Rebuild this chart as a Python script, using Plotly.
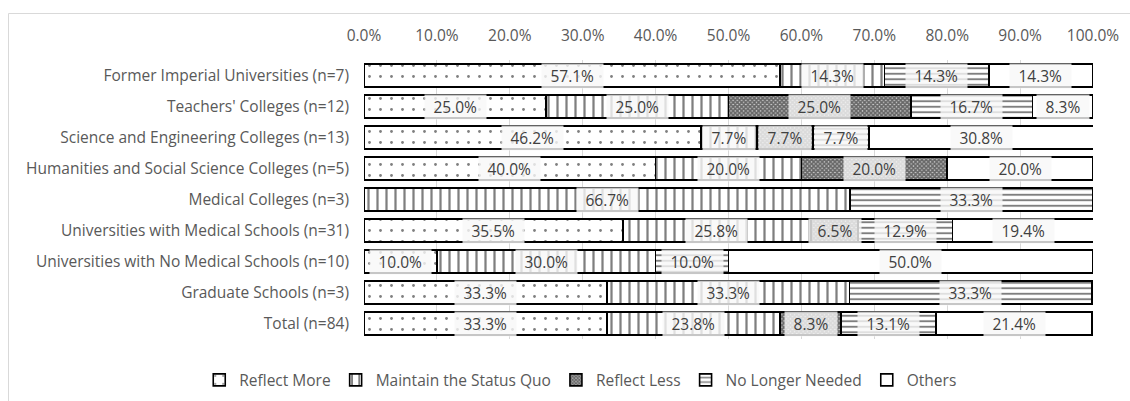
import plotly.graph_objects as go

# Survey responses by institution type (percent of respondents)
categories = [
    "Former Imperial Universities (n=7)",
    "Teachers' Colleges (n=12)",
    "Science and Engineering Colleges (n=13)",
    "Humanities and Social Science Colleges (n=5)",
    "Medical Colleges (n=3)",
    "Universities with Medical Schools (n=31)",
    "Universities with No Medical Schools (n=10)",
    "Graduate Schools (n=3)",
    "Total (n=84)",
]
reflect_more = [57.1, 25.0, 46.2, 40.0, 0.0, 35.5, 10.0, 33.3, 33.3]
maintain_status_quo = [14.3, 25.0, 7.7, 20.0, 66.7, 25.8, 30.0, 33.3, 23.8]
reflect_less = [0.0, 25.0, 7.7, 20.0, 0.0, 6.5, 0.0, 0.0, 8.3]
no_longer_needed = [14.3, 16.7, 7.7, 0.0, 33.3, 12.9, 10.0, 33.3, 13.1]
others = [14.3, 8.3, 30.8, 20.0, 0.0, 19.4, 50.0, 0.0, 21.4]

tick_values = [0, 10, 20, 30, 40, 50, 60, 70, 80, 90, 100]
tick_labels = ["0.0%", "10.0%", "20.0%", "30.0%", "40.0%", "50.0%",
               "60.0%", "70.0%", "80.0%", "90.0%", "100.0%"]

FONT = "Open Sans, DejaVu Sans, sans-serif"
FS = 15.5

series = [
    ("Reflect More", reflect_more,
     dict(shape=".", size=11, solidity=0.05, fgcolor="#000000", bgcolor="#ffffff")),
    ("Maintain the Status Quo", maintain_status_quo,
     dict(shape="|", size=9, solidity=0.25, fgcolor="#000000", bgcolor="#ffffff")),
    ("Reflect Less", reflect_less,
     dict(shape="x", size=3, solidity=0.8, fgcolor="#000000", bgcolor="#d0d0d0")),
    ("No Longer Needed", no_longer_needed,
     dict(shape="-", size=5.5, solidity=0.35, fgcolor="#000000", bgcolor="#ffffff")),
    ("Others", others,
     dict(shape="", fgcolor="#000000", bgcolor="#ffffff")),
]

fig = go.Figure()
for name, values, pattern in series:
    fig.add_trace(go.Bar(
        name=name,
        y=categories,
        x=values,
        orientation="h",
        marker=dict(color="#ffffff", pattern=pattern,
                    line=dict(color="#000000", width=1.6)),
        hoverinfo="name+x",
    ))

# Value labels centred on each segment, with a translucent box behind them
annotations = []
offsets = [0.0] * len(categories)
for name, values, _ in series:
    for i, v in enumerate(values):
        if v > 0:
            txt = f"{v:.1f}%"
            annotations.append(dict(
                x=offsets[i] + v / 2, y=categories[i], xref="x", yref="y",
                text=txt, showarrow=False,
                font=dict(family=FONT, size=FS, color="#404040"),
                bgcolor="rgba(248,248,248,0.8)",
                width=8.5 * len(txt) + 16, height=22, borderpad=1,
            ))
        offsets[i] += v

fig.update_layout(
    barmode="stack",
    bargap=0.24,
    width=1130,
    height=401,
    margin=dict(l=364, r=37, t=60, b=62, autoexpand=False),
    paper_bgcolor="#ffffff",
    plot_bgcolor="#ffffff",
    font=dict(family=FONT, size=FS, color="#595959"),
    annotations=annotations,
    legend=dict(
        orientation="h", x=-0.226, xanchor="left",
        y=-0.148, yanchor="middle",
        font=dict(family=FONT, size=FS, color="#595959"),
        itemwidth=30, traceorder="normal",
    ),
    xaxis=dict(
        side="top", range=[0, 100], tickvals=tick_values, ticktext=tick_labels,
        showgrid=True, gridcolor="#d9d9d9", gridwidth=1, zeroline=False,
        showline=False, ticks="", ticklabelstandoff=15,
        tickfont=dict(family=FONT, size=FS, color="#595959"),
    ),
    yaxis=dict(
        autorange="reversed", showgrid=False, showline=False, ticks="",
        ticklabelstandoff=14,
        tickfont=dict(family=FONT, size=FS, color="#595959"),
    ),
    shapes=[dict(
        type="rect", xref="paper", yref="paper",
        x0=(8.5 - 364) / 729, x1=(1160 - 364) / 729,
        y0=(339 - 420) / 279, y1=(339 - 13.5) / 279,
        line=dict(color="#d9d9d9", width=1), fillcolor="rgba(0,0,0,0)",
        layer="below",
    )],
)

fig.write_html("out.html")
